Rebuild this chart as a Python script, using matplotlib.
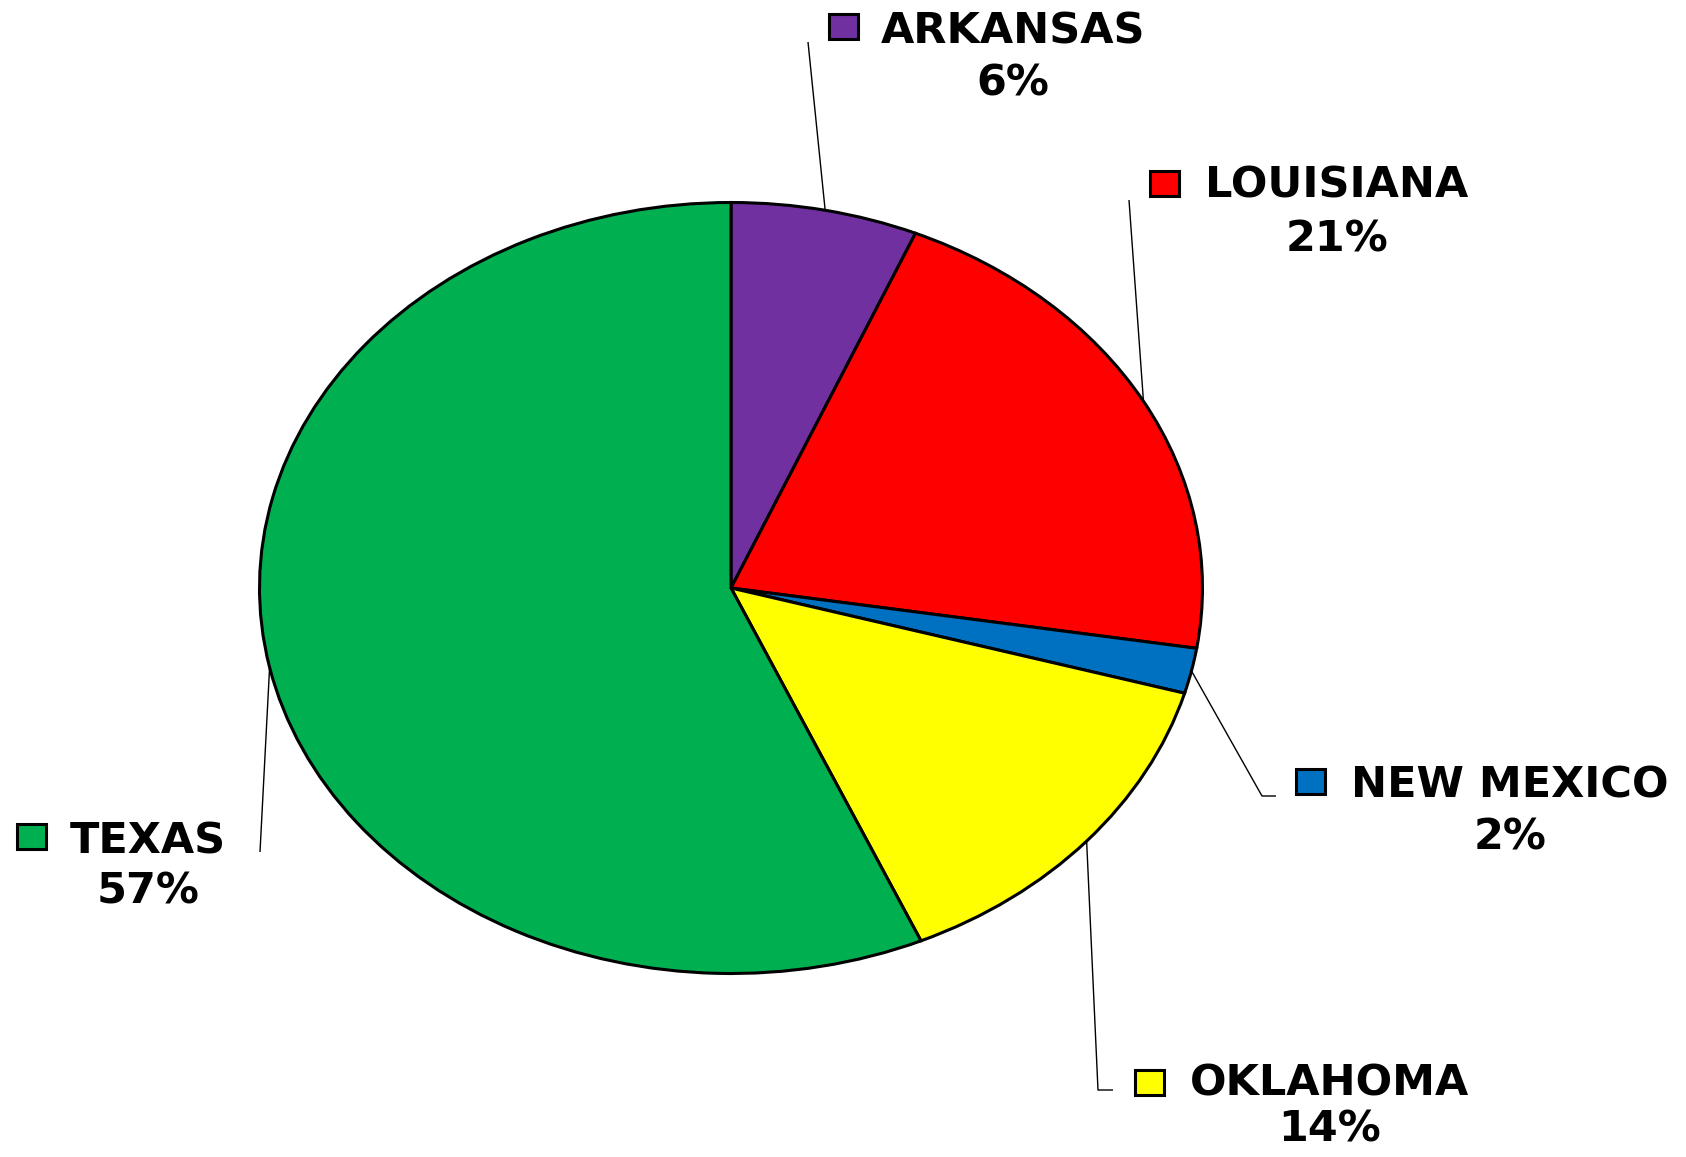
import matplotlib
matplotlib.use("Agg")
import matplotlib.pyplot as plt
from matplotlib.patches import Rectangle
from matplotlib.transforms import IdentityTransform
import numpy as np

# ---- data ----
states = ["ARKANSAS", "LOUISIANA", "NEW MEXICO", "OKLAHOMA", "TEXAS"]
shares = [6.4, 21.1, 1.9, 14.0, 56.6]
pct_labels = ["6%", "21%", "2%", "14%", "57%"]
colors = ["#7030A0", "#FF0000", "#0070C0", "#FFFF00", "#00B050"]

# ---- layout (pixels, origin top-left) ----
W, H = 1686, 1157
CX, CY, RX, RY = 731, 588, 471.5, 385.5
PAD = 1.1

fig = plt.figure(figsize=(W / 100, H / 100), dpi=100)
fig.patch.set_facecolor("white")
ax = fig.add_axes([(CX - PAD * RX) / W, (H - (CY + PAD * RY)) / H,
                   2 * PAD * RX / W, 2 * PAD * RY / H])
wedges, _ = ax.pie(shares, colors=colors, startangle=90, counterclock=False,
                   wedgeprops=dict(edgecolor="black", linewidth=2.2))
ax.set_aspect("auto")
ax.set_xlim(-PAD, PAD)
ax.set_ylim(-PAD, PAD)
ax.axis("off")


def d(xp, yp):
    return (xp - CX) / RX, (CY - yp) / RY


# label layout: name center x, name baseline, pct baseline, square left, leader path
layout = {
    "ARKANSAS": dict(cx=1013, nb=43, pb=95, sq=(829, 26), path=[(808, 42)]),
    "LOUISIANA": dict(cx=1337, nb=198, pb=252, sq=(1150, 183), path=[(1129, 200)]),
    "NEW MEXICO": dict(cx=1510, nb=797, pb=850, sq=(1296, 781), path=[(1262, 796), (1276, 796)]),
    "OKLAHOMA": dict(cx=1330, nb=1096, pb=1142, sq=(1135, 1082), path=[(1098, 1090), (1113, 1090)]),
    "TEXAS": dict(cx=148, nb=853, pb=903, sq=(17, 836), path=[(260, 852)]),
}

fs = 31
cum = np.cumsum([0] + shares)
total = cum[-1]
for i, name in enumerate(states):
    L = layout[name]
    mid = (cum[i] + cum[i + 1]) / 2 / total * 2 * np.pi
    ax_pt = (np.sin(mid), np.cos(mid))
    pts = [ax_pt] + [d(*p) for p in L["path"]]
    xs, ys = zip(*pts)
    ax.plot(xs, ys, color="black", lw=1.0, clip_on=False, solid_capstyle="butt")
    fig.text(L["cx"], H - L["nb"], name, transform=IdentityTransform(),
             ha="center", va="baseline", fontsize=fs, fontweight="bold",
             family="DejaVu Sans")
    fig.text(L["cx"], H - L["pb"], pct_labels[i], transform=IdentityTransform(),
             ha="center", va="baseline", fontsize=fs, fontweight="bold",
             family="DejaVu Sans")
    sx, sy = L["sq"]
    fig.patches.append(Rectangle((sx, H - sy - 12.5), 29, 25, transform=IdentityTransform(),
                                 facecolor=colors[i], edgecolor="black", lw=2.2))

fig.savefig("out.png", dpi=100, facecolor="white")
